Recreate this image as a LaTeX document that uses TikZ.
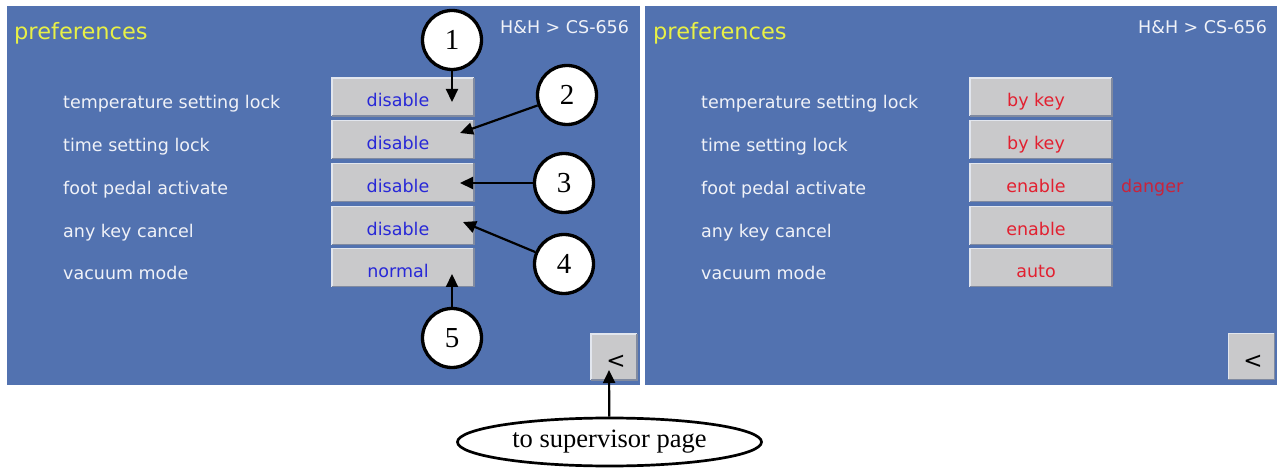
\documentclass[tikz,border=0pt]{standalone}
\usepackage{fontspec}
\setmainfont{DejaVu Sans}
\newfontfamily\tnr{Liberation Serif}
\usetikzlibrary{arrows.meta,shapes.geometric}
\definecolor{panelblue}{RGB}{82,114,176}
\definecolor{btngray}{RGB}{201,201,203}
\definecolor{btnlight}{RGB}{226,230,238}
\definecolor{btndark}{RGB}{128,138,160}
\definecolor{lbltext}{RGB}{240,242,248}
\definecolor{titleyellow}{RGB}{232,240,70}
\definecolor{valblue}{RGB}{40,40,215}
\definecolor{valred}{RGB}{226,32,48}
\definecolor{dangerred}{RGB}{200,36,60}
\tikzset{
  btn/.style={fill=btngray, minimum width=142pt, minimum height=38pt, inner sep=0pt,
    text height=22pt, text depth=2pt, font=\fontsize{17.5}{20}\selectfont,
    execute at begin node={\hspace*{-10pt}}},
  bluev/.style={btn, text=valblue},
  redv/.style={btn, text=valred},
  backbtn/.style={fill=btngray, minimum width=46pt, minimum height=46pt, inner sep=0pt},
  backtxt/.style={inner sep=0pt, font=\fontsize{23}{24}\selectfont},
  lbl/.style={anchor=base west, inner sep=0pt, text=lbltext, font=\fontsize{17.5}{20}\selectfont},
  ttl/.style={anchor=base west, inner sep=0pt, text=titleyellow, font=\fontsize{22.5}{24}\selectfont},
  hh/.style={anchor=base west, inner sep=0pt, text=lbltext, font=\fontsize{17.5}{20}\selectfont},
  num/.style={circle, draw=black, line width=3.3pt, fill=white, minimum size=59pt, inner sep=0pt,
    font=\tnr\fontsize{29}{30}\selectfont},
  arr/.style={line width=2.2pt, -{Triangle[length=13pt,width=12pt]}},
  oval/.style={ellipse, draw=black, line width=2.7pt, minimum width=304pt, minimum height=48pt,
    inner sep=0pt, font=\tnr\fontsize{26.5}{28}\selectfont},
}
\newcommand{\btnedges}[1]{%
  \draw[btnlight, line width=1.5pt] (#1.south west) -- (#1.north west) -- (#1.north east);
  \draw[btndark, line width=1.5pt] (#1.north east) -- (#1.south east) -- (#1.south west);}
\begin{document}
\begin{tikzpicture}[x=1pt,y=-1pt]
\useasboundingbox (0,0) rectangle (1277,470);
\fill[white] (0,0) rectangle (1277,470);
% panels
\fill[panelblue] (7,6) rectangle (640,385);
\fill[panelblue] (645,6) rectangle (1277,385);

% ---------- left panel ----------
\node[ttl] (ltitle) at (14,40) {preferences};
\node[hh] (lhh) at (500,34) {H\&H > CS-656};
\node[lbl] (ll1) at (63,109) {temperature setting lock};
\node[lbl] (ll2) at (63,152) {time setting lock};
\node[lbl] (ll3) at (63,195) {foot pedal activate};
\node[lbl] (ll4) at (63,238) {any key cancel};
\node[lbl] (ll5) at (63,280) {vacuum mode};
\node[bluev] (l1) at (403,97) {disable};
\node[bluev] (l2) at (403,139.5) {disable};
\node[bluev] (l3) at (403,182.5) {disable};
\node[bluev] (l4) at (403,225.5) {disable};
\node[bluev] (l5) at (403,267.5) {normal};
\foreach \b in {l1,l2,l3,l4,l5}{\btnedges{\b}}
\node[backbtn] (lback) at (614,357) {};
\btnedges{lback}
\node[backtxt] (lbacktxt) at (616,362) {<};

% ---------- right panel ----------
\node[ttl] (rtitle) at (653,40) {preferences};
\node[hh] (rhh) at (1138,34) {H\&H > CS-656};
\node[lbl] (rl1) at (701,109) {temperature setting lock};
\node[lbl] (rl2) at (701,152) {time setting lock};
\node[lbl] (rl3) at (701,195) {foot pedal activate};
\node[lbl] (rl4) at (701,238) {any key cancel};
\node[lbl] (rl5) at (701,280) {vacuum mode};
\node[redv] (r1) at (1041,97) {by key};
\node[redv] (r2) at (1041,139.5) {by key};
\node[redv] (r3) at (1041,182.5) {enable};
\node[redv] (r4) at (1041,225.5) {enable};
\node[redv] (r5) at (1041,267.5) {auto};
\foreach \b in {r1,r2,r3,r4,r5}{\btnedges{\b}}
\node[anchor=base west, inner sep=0pt, text=dangerred, font=\fontsize{17.5}{20}\selectfont] (danger) at (1121,193) {danger};
\node[backbtn] (rback) at (1251.5,356.5) {};
\btnedges{rback}
\node[backtxt] (rbacktxt) at (1253,362) {<};

% ---------- callouts ----------
\coordinate (t1) at (452,102);
\coordinate (t2) at (460,133);
\coordinate (t3) at (460,183);
\coordinate (t4) at (463,222);
\coordinate (t5) at (452,274);
\coordinate (tb) at (609,370);
\node[num] (c1) at (452,40) {1};
\node[num] (c2) at (567,95) {2};
\node[num] (c3) at (564,183) {3};
\node[num] (c4) at (564,264) {4};
\node[num] (c5) at (452,338) {5};
\draw[arr] (c1) -- (t1);
\draw[arr] (c2) -- (t2);
\draw[arr] (c3) -- (t3);
\draw[arr] (c4) -- (t4);
\draw[arr] (c5) -- (t5);
\node[oval] (sup) at (609.5,442) {to supervisor page};
\draw[arr] (sup) -- (tb);
\end{tikzpicture}
\end{document}
